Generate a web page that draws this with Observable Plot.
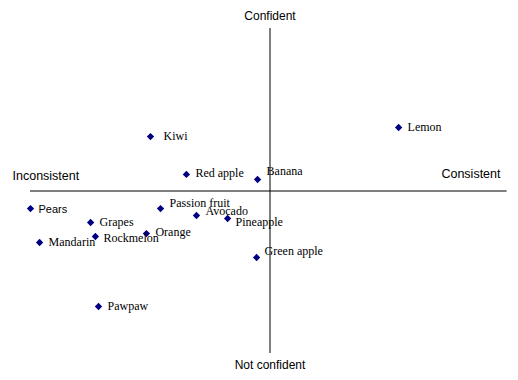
<!DOCTYPE html>
<html>
<head>
<meta charset="utf-8">
<script src="https://cdn.jsdelivr.net/npm/d3@7"></script>
<script src="https://cdn.jsdelivr.net/npm/@observablehq/plot@0.6"></script>
<style>
  html, body { margin: 0; padding: 0; background: #fff; }
  #chart svg { display: block; }
</style>
</head>
<body>
<div id="chart"></div>
<script>
// Data (consistency on x, confidence on y)
const fruits = ["Kiwi", "Red apple", "Banana", "Lemon", "Pears", "Passion fruit", "Grapes",
  "Avocado", "Pineapple", "Mandarin", "Rockmelon", "Orange", "Green apple", "Pawpaw"];
const consistency = [-4.99, -3.49, -0.52, 5.37, -10.0, -4.57, -7.49, -3.07, -1.77, -9.62, -7.29, -5.16, -0.56, -7.16];
const confidence = [3.35, 1.02, 0.71, 3.91, -1.08, -1.08, -1.94, -1.51, -1.69, -3.17, -2.80, -2.62, -4.09, -7.11];
const axisLabels = { top: "Confident", bottom: "Not confident", left: "Inconsistent", right: "Consistent" };

const data = fruits.map((name, i) => ({ name, x: consistency[i], y: confidence[i] }));

// label nudges (style only)
const nudge = {
  "Kiwi": [13, 0], "Red apple": [9, -1], "Banana": [9, -8], "Lemon": [9, 0],
  "Pears": [8, 1], "Passion fruit": [9, -5], "Grapes": [9, 0], "Avocado": [9, -4],
  "Pineapple": [8, 4], "Mandarin": [9, 0], "Rockmelon": [8, 2], "Orange": [9, -1],
  "Green apple": [8, -6], "Pawpaw": [9, 0]
};

const serif = "'Liberation Serif', 'Times New Roman', serif";
const sans = "'Liberation Sans', Arial, sans-serif";

const labelMarks = data.map(d => Plot.text([d], {
  x: "x", y: "y", text: "name", textAnchor: "start",
  dx: nudge[d.name][0], dy: nudge[d.name][1],
  fontFamily: d.name === "Pears" ? sans : serif,
  fontSize: d.name === "Pears" ? 11 : 12,
  fill: "#000"
}));

const chart = Plot.plot({
  width: 518,
  height: 380,
  marginLeft: 30,
  marginRight: 9,
  marginTop: 28,
  marginBottom: 27,
  x: { domain: [-10, 10], axis: null },
  y: { domain: [-10, 10], axis: null },
  style: { background: "#fff" },
  marks: [
    Plot.ruleY([0], { x1: -10, x2: 9.9, stroke: "#000", strokeWidth: 1 }),
    Plot.ruleX([0], { y1: -10, y2: 10, stroke: "#000", strokeWidth: 1 }),
    Plot.dot(data, { x: "x", y: "y", symbol: "diamond2", r: 3.3, fill: "#000080", stroke: null }),
    ...labelMarks,
    Plot.text([axisLabels.top], { x: 0, frameAnchor: "top", lineAnchor: "middle", dy: -12, text: d => d, fontFamily: sans, fontSize: 12, fill: "#000" }),
    Plot.text([axisLabels.bottom], { x: 0, frameAnchor: "bottom", lineAnchor: "middle", dy: 12, text: d => d, fontFamily: sans, fontSize: 12, fill: "#000" }),
    Plot.text([axisLabels.left], { x: -10, y: 0, dx: -18, dy: -15, textAnchor: "start", text: d => d, fontFamily: sans, fontSize: 12.5, fill: "#000" }),
    Plot.text([axisLabels.right], { x: 10, y: 0, dx: -9, dy: -17, textAnchor: "end", text: d => d, fontFamily: sans, fontSize: 12.5, fill: "#000" })
  ]
});
document.getElementById("chart").appendChild(chart);
</script>
</body>
</html>
